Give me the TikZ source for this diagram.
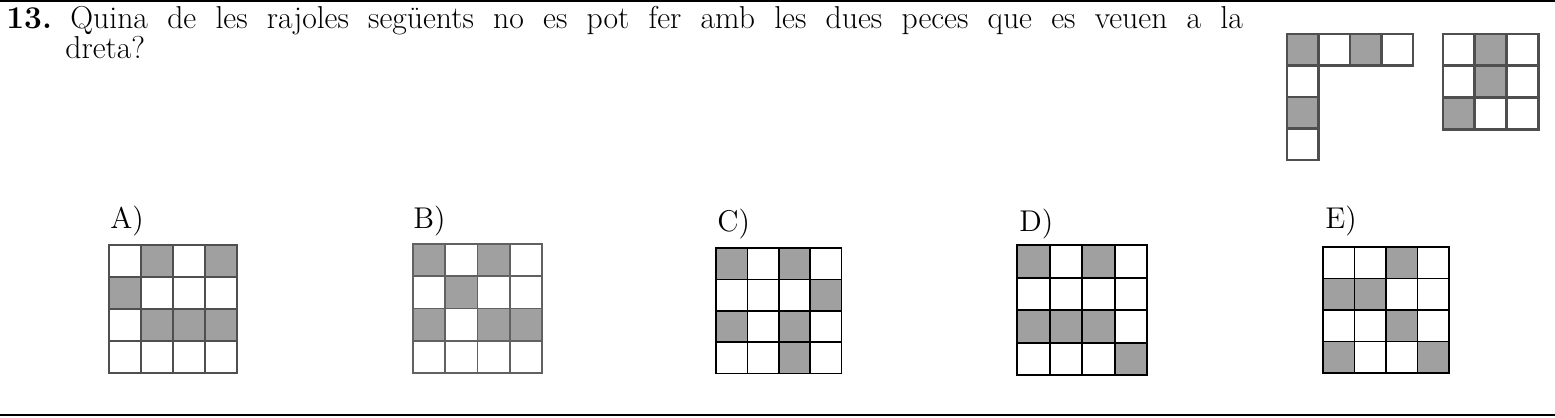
\documentclass[tikz,border=0pt]{standalone}
\usepackage{fontspec}
\definecolor{tilegrey}{HTML}{A0A0A0}
\definecolor{piecegrey}{HTML}{4F4F4F}
\newlength\qspw
\newcommand\qlinetext{Quina de les rajoles següents no es pot fer amb les dues peces que es veuen a la}
\newcommand\qcompute{\setbox0\hbox{\spaceskip=0.001pt\relax\qlinetext}\global\qspw=\dimexpr(556pt-\wd0)/17\relax}
\newcommand\tilegrid[6]{%
  \foreach \cc/\rr in {#6} {\fill[tilegrey] (#1+\cc*#3,#2+\rr*#3) rectangle ++(#3,#3);}
  \foreach \ii in {0,...,4} {
    \draw[#4,line width=#5,line cap=rect] (#1+\ii*#3,#2) -- (#1+\ii*#3,#2+4*#3);
    \draw[#4,line width=#5,line cap=rect] (#1,#2+\ii*#3) -- (#1+4*#3,#2+\ii*#3);
  }%
}
\newcommand\piececells[5]{% x0 y0 cell shaded cells
  \foreach \cc/\rr in {#4} {\fill[tilegrey] (#1+\cc*#3,#2+\rr*#3) rectangle ++(#3,#3);}
  \foreach \cc/\rr in {#5} {\draw[piecegrey,line width=1.4pt] (#1+\cc*#3,#2+\rr*#3) rectangle ++(#3,#3);}
}
\begin{document}
\begin{tikzpicture}[x=0.48pt,y=-0.48pt,
  txt/.style={inner sep=0pt,font=\fontsize{15.2}{16}\selectfont},
  lab/.style={inner sep=0pt,font=\fontsize{14.4}{17}\selectfont}]
\useasboundingbox (0,0) rectangle (1555,417);
\draw[line width=1.2pt] (0,0.6) coordinate (tl) -- (1555,0.6) coordinate (tr);
\draw[line width=0.5pt] (0,415) coordinate (bl) -- (1555,415) coordinate (br);
\node[txt,anchor=base west] (qn) at (6,28) {\textbf{13.}\qcompute};
\foreach \w [count=\i, remember=\i as \lasti (initially 0)] in {Quina,de,les,rajoles,següents,no,es,pot,fer,amb,les,dues,peces,que,es,veuen,a,la} {
  \ifnum\i=1
    \node[txt,anchor=base west] (w1) at (70,28) {\w};
  \else
    \node[txt,anchor=base west] (w\i) at ([xshift=\qspw]w\lasti.base east) {\w};
  \fi
}
\node[txt,anchor=base west] (q2) at (65,58) {dreta?};
% pieces
\piececells{1287}{34}{31.5}{0/0,2/0,0/2}{0/0,1/0,2/0,3/0,0/1,0/2,0/3}
\piececells{1443}{34}{31.7}{1/0,1/1,0/2}{0/0,1/0,2/0,0/1,1/1,2/1,0/2,1/2,2/2}
% options
\node[lab,anchor=base west] (la) at (110,228) {A)};
\tilegrid{109}{245}{32}{piecegrey}{1.2pt}{1/0,3/0,0/1,1/2,2/2,3/2}
\node[lab,anchor=base west] (lb) at (413,228) {B)};
\tilegrid{413}{244}{32.3}{piecegrey!90}{0.8pt}{0/0,2/0,1/1,0/2,2/2,3/2}
\node[lab,anchor=base west] (lc) at (717,231) {C)};
\tilegrid{716}{248}{31.4}{black}{0.75pt}{0/0,2/0,3/1,0/2,2/2,2/3}
\node[lab,anchor=base west] (ld) at (1019,231) {D)};
\tilegrid{1017}{245}{32.6}{black}{0.95pt}{0/0,2/0,0/2,1/2,2/2,3/3}
\node[lab,anchor=base west] (le) at (1325,228) {E)};
\tilegrid{1323}{247}{31.5}{black}{0.85pt}{2/0,0/1,1/1,2/2,0/3,3/3}
\end{tikzpicture}
\end{document}
